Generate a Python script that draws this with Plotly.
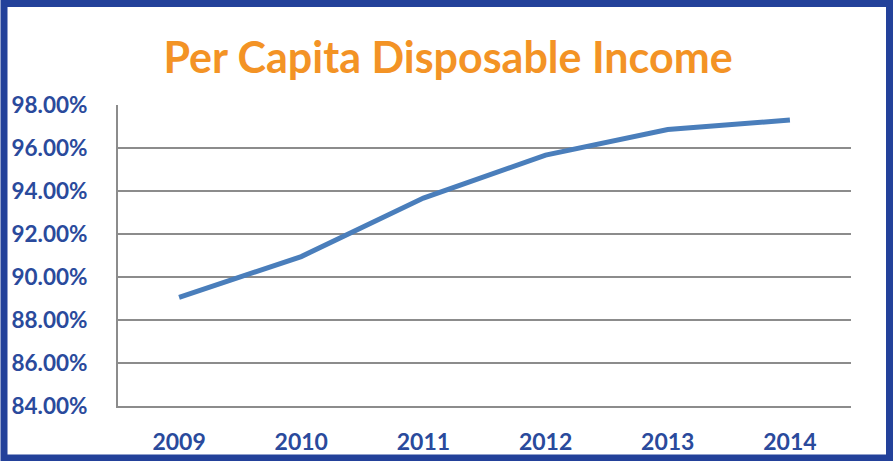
import plotly.graph_objects as go

# Per capita disposable income, share (%) by year
years = ["2009", "2010", "2011", "2012", "2013", "2014"]
income_pct = [89.05, 90.95, 93.67, 95.67, 96.86, 97.30]
y_ticks = [84, 86, 88, 90, 92, 94, 96, 98]
y_tick_text = [f"{v:.2f}%" for v in y_ticks]

W, H = 893, 461
L, R, T, B = 118, 42, 105, 55

BLUE_TXT = "#2A4A9C"
BORDER = "#23419A"
LINE = "#4A7EBB"
GRID = "#8C8C8C"
ORANGE = "#F39325"

fig = go.Figure(
    go.Scatter(
        x=years,
        y=income_pct,
        mode="lines",
        line=dict(color=LINE, width=5),
        hoverinfo="x+y",
    )
)

pw, ph = W - L - R, H - T - B


def px_x(p):
    return (p - L) / pw


def px_y(p):
    return 1 - (p - T) / ph


# outer frame around the whole chart
fig.add_shape(
    type="rect",
    xref="paper", yref="paper",
    x0=px_x(4), x1=px_x(889.5), y0=px_y(3.5), y1=px_y(458),
    line=dict(color=BORDER, width=7),
    fillcolor="rgba(0,0,0,0)",
    layer="above",
)

fig.update_layout(
    width=W,
    height=H,
    margin=dict(l=L, r=R, t=T, b=B, autoexpand=False),
    paper_bgcolor="white",
    plot_bgcolor="white",
    showlegend=False,
    title=dict(
        text="<b>Per Capita Disposable Income</b>",
        font=dict(family="Lato", size=43, color=ORANGE),
        x=448 / W,
        xanchor="center",
        xref="container",
        y=1 - 58 / H,
        yanchor="middle",
        yref="container",
    ),
    xaxis=dict(
        type="category",
        automargin=False,
        showgrid=False,
        showline=True,
        linecolor=GRID,
        linewidth=2,
        ticks="",
        ticklabelstandoff=14,
        tickfont=dict(family="Lato", size=23, color=BLUE_TXT, weight="bold"),
        range=[-0.5, 5.5],
        fixedrange=True,
    ),
    yaxis=dict(
        automargin=False,
        range=[84, 98],
        tickvals=y_ticks,
        ticktext=y_tick_text,
        showgrid=True,
        gridcolor=GRID,
        gridwidth=2,
        zeroline=False,
        showline=True,
        linecolor=GRID,
        linewidth=2,
        ticks="",
        ticklabelstandoff=24,
        tickfont=dict(family="Lato", size=22.5, color=BLUE_TXT, weight="bold"),
        fixedrange=True,
    ),
)

fig.write_html("out.html")
